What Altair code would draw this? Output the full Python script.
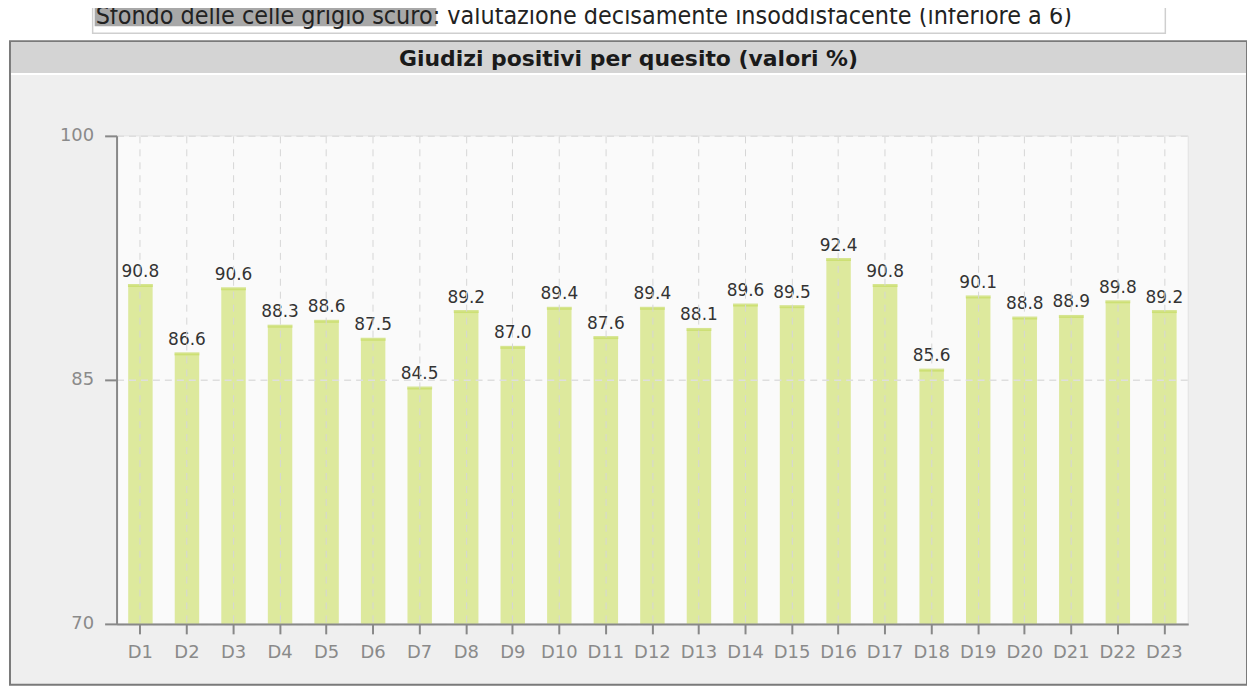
import altair as alt
import pandas as pd

categories = ["D1", "D2", "D3", "D4", "D5", "D6", "D7", "D8", "D9", "D10", "D11", "D12",
              "D13", "D14", "D15", "D16", "D17", "D18", "D19", "D20", "D21", "D22", "D23"]
values = [90.8, 86.6, 90.6, 88.3, 88.6, 87.5, 84.5, 89.2, 87.0, 89.4, 87.6, 89.4,
          88.1, 89.6, 89.5, 92.4, 90.8, 85.6, 90.1, 88.8, 88.9, 89.8, 89.2]
y_ticks = [70, 85, 100]
y_min, y_max = 70, 100
title_text = "Giudizi positivi per quesito (valori %)"
note_text = "Sfondo delle celle grigio scuro: valutazione decisamente insoddisfacente (inferiore a 6)"

df = pd.DataFrame({"q": categories, "v": values})
one = pd.DataFrame({"a": [0]})

W, H = 1076, 490

xenc = alt.X("q:N", sort=categories, title=None,
             scale=alt.Scale(paddingInner=0.475, paddingOuter=0.25),
             axis=alt.Axis(labelAngle=0, labelColor="#8a8a8a", labelFontSize=18,
                           labelFont="DejaVu Sans", tickSize=10, tickColor="#888",
                           tickWidth=2, domainColor="#888", domainWidth=2,
                           labelPadding=10, grid=True, gridColor="#d6d6d6",
                           gridDash=[7, 6], gridWidth=1, zindex=1))
yenc = alt.Y("v:Q", title=None,
             scale=alt.Scale(domain=[y_min, y_max], nice=False, zero=False),
             axis=alt.Axis(values=y_ticks, labelColor="#8a8a8a", labelFontSize=18,
                           labelFont="DejaVu Sans", tickSize=12, tickColor="#888",
                           tickWidth=2, domainColor="#888", domainWidth=2,
                           labelPadding=11, grid=True, gridColor="#dedede",
                           gridDash=[7, 5], gridWidth=1.5, zindex=1))

# decorations (frame, title bar, note box)
frame = alt.Chart(one).mark_rect(fill="#efefef", stroke="#7a7a7a", strokeWidth=2).encode(
    x=alt.value(-107), x2=alt.value(1135), y=alt.value(-95), y2=alt.value(551))
titlebar = alt.Chart(one).mark_rect(fill="#d4d4d4").encode(
    x=alt.value(-106), x2=alt.value(1134), y=alt.value(-94), y2=alt.value(-63))
titlesep = alt.Chart(one).mark_rule(color="#ffffff", strokeWidth=2).encode(
    x=alt.value(-106), x2=alt.value(1134), y=alt.value(-62))
title = alt.Chart(one).mark_text(text=title_text, font="DejaVu Sans", fontWeight="bold",
                                 fontSize=22, color="#1a1a1a", align="center",
                                 baseline="alphabetic").encode(
    x=alt.value(514), y=alt.value(-70))
notebox = alt.Chart(one).mark_rect(fill="#ffffff", stroke="#cfcfcf", strokeWidth=1.5).encode(
    x=alt.value(-24), x2=alt.value(1053), y=alt.value(-150), y2=alt.value(-103))
notehl = alt.Chart(one).mark_rect(fill="#a8a8a8").encode(
    x=alt.value(-22), x2=alt.value(321), y=alt.value(-150), y2=alt.value(-110))
note = alt.Chart(one).mark_text(text=note_text, font="DejaVu Sans Condensed, Liberation Sans",
                                fontSize=25, color="#222", align="left",
                                baseline="alphabetic").encode(
    x=alt.value(-21), y=alt.value(-112))

plotbg = alt.Chart(one).mark_rect(fill="#fafafa", stroke="#e2e2e2", strokeWidth=1).encode(
    x=alt.value(0), x2=alt.value(W), y=alt.value(0), y2=alt.value(H))

bars = alt.Chart(df).mark_bar(color="#dde99d").encode(x=xenc, y=yenc, y2=alt.datum(y_min))
tops = alt.Chart(df).mark_tick(color="#c6dc62", thickness=3, size=25, orient="horizontal").encode(
    x=alt.X("q:N", sort=categories), y=alt.Y("v:Q"))
labels = alt.Chart(df).mark_text(font="DejaVu Sans", fontSize=17, color="#333333",
                                 baseline="alphabetic", dy=-9).encode(
    x=alt.X("q:N", sort=categories), y=alt.Y("v:Q"), text=alt.Text("v:Q", format=".1f"))

chart = alt.layer(frame, titlebar, titlesep, title, notebox, notehl, note, plotbg,
                  bars, tops, labels).properties(
    width=W, height=H,
    autosize=alt.AutoSizeParams(type="none"),
    padding={"left": 109, "top": 127, "right": 59, "bottom": 63},
    background="#ffffff",
).configure_view(stroke=None)

chart.save("out.html", embed_options={"renderer": "svg", "actions": False})
